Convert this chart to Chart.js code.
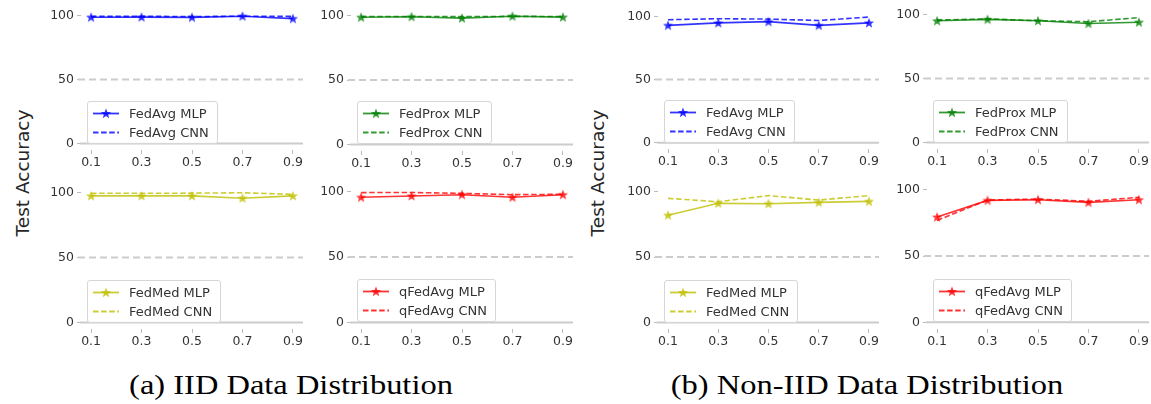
<!DOCTYPE html>
<html>
<head>
<meta charset="utf-8">
<script src="https://cdn.jsdelivr.net/npm/chart.js@4.4.1/dist/chart.umd.min.js"></script>
<style>
  html, body { margin: 0; padding: 0; background: #fff; }
  #wrap { position: relative; width: 1151px; height: 404px; overflow: hidden; background: #fff; }
  canvas { position: absolute; }
  .legend {
    position: absolute; box-sizing: border-box; height: 43px;
    padding: 2px 8px 2px 4px; background: rgba(255,255,255,0.8);
    border: 1px solid #d6d6d6; border-radius: 3px;
    font-family: "DejaVu Sans", sans-serif; font-size: 13px; color: #333;
  }
  .legend .row { display: flex; align-items: center; height: 19px; white-space: nowrap; }
  .legend svg { width: 28px; height: 19px; margin-right: 9px; flex: none; }
  .ylabel {
    position: absolute; width: 200px; text-align: center;
    font-family: "DejaVu Sans", sans-serif; font-size: 18.5px; color: #262626;
    transform: translate(-50%, -50%) rotate(-90deg); white-space: nowrap;
  }
  .caption {
    position: absolute; transform: translate(-50%, -50%) scaleX(1.16); white-space: nowrap;
    font-family: "Liberation Serif", serif; font-size: 28px; color: #000;
  }
</style>
</head>
<body>
<div id="wrap"></div>
<script>
// x values (fraction) and tick labels
const fractions = [0.1, 0.3, 0.5, 0.7, 0.9];
const xTickLabels = ['0.1', '0.3', '0.5', '0.7', '0.9'];
const yTicks = [0, 50, 100];
const methods = ['FedAvg', 'FedProx', 'FedMed', 'qFedAvg'];

// (a) IID
const iidFedAvgMLP = [98.6, 98.7, 98.5, 99.4, 97.5];
const iidFedAvgCNN = [99.2, 99.3, 99.1, 99.4, 99.2];
const iidFedProxMLP = [98.6, 99.0, 97.9, 99.4, 98.7];
const iidFedProxCNN = [99.2, 99.2, 99.1, 99.3, 99.2];
const iidFedMedMLP = [97.4, 97.4, 97.4, 95.6, 97.4];
const iidFedMedCNN = [99.4, 99.4, 99.5, 99.8, 98.6];
const iidQFedAvgMLP = [95.6, 96.6, 97.6, 95.6, 97.6];
const iidQFedAvgCNN = [99.2, 99.3, 98.6, 97.6, 97.9];

// (b) Non-IID
const nonIidFedAvgMLP = [92.8, 94.8, 95.8, 92.8, 94.8];
const nonIidFedAvgCNN = [97.3, 98.1, 97.8, 96.7, 99.4];
const nonIidFedProxMLP = [95.0, 96.1, 95.0, 92.9, 93.9];
const nonIidFedProxCNN = [95.6, 96.5, 95.1, 94.3, 97.5];
const nonIidFedMedMLP = [81.9, 91.0, 90.7, 91.7, 92.5];
const nonIidFedMedCNN = [94.8, 92.2, 96.9, 93.5, 96.9];
const nonIidQFedAvgMLP = [79.3, 91.9, 92.4, 90.4, 92.4];
const nonIidQFedAvgCNN = [76.8, 92.2, 92.9, 91.2, 94.2];

const colors = ['rgba(0,0,255,0.8)', 'rgba(0,128,0,0.8)', 'rgba(191,191,0,0.8)', 'rgba(255,0,0,0.8)'];

// where each subplot sits: pixel of x=0.1 / x=0.9 and y=0 / y=100
const panels = [
  { m: 0, mlp: iidFedAvgMLP, cnn: iidFedAvgCNN, x01: 91.5, x09: 293.3, y0: 143.8, y100: 15 },
  { m: 1, mlp: iidFedProxMLP, cnn: iidFedProxCNN, x01: 361, x09: 563.3, y0: 144.2, y100: 15 },
  { m: 2, mlp: iidFedMedMLP, cnn: iidFedMedCNN, x01: 91.5, x09: 293.3, y0: 322.7, y100: 192.5 },
  { m: 3, mlp: iidQFedAvgMLP, cnn: iidQFedAvgCNN, x01: 361, x09: 563.3, y0: 322.3, y100: 191.7 },
  { m: 0, mlp: nonIidFedAvgMLP, cnn: nonIidFedAvgCNN, x01: 667.7, x09: 868.7, y0: 142.7, y100: 16.7 },
  { m: 1, mlp: nonIidFedProxMLP, cnn: nonIidFedProxCNN, x01: 936.9, x09: 1139.3, y0: 142.7, y100: 14 },
  { m: 2, mlp: nonIidFedMedMLP, cnn: nonIidFedMedCNN, x01: 667.7, x09: 868.7, y0: 322.7, y100: 191.7 },
  { m: 3, mlp: nonIidQFedAvgMLP, cnn: nonIidQFedAvgCNN, x01: 937.3, x09: 1139.3, y0: 322.3, y100: 190 }
];

const YW = 46, XH = 26, PT = 2, PR = 2;
const wrap = document.getElementById('wrap');

Chart.defaults.font.family = '"DejaVu Sans", sans-serif';
Chart.defaults.font.size = 12.5;
Chart.defaults.color = '#333';

function starPoints(cx, cy, R, r) {
  const pts = [];
  for (let i = 0; i < 10; i++) {
    const a = -Math.PI / 2 + i * Math.PI / 5;
    const rad = i % 2 ? r : R;
    pts.push([cx + rad * Math.cos(a), cy + rad * Math.sin(a)]);
  }
  return pts;
}

function starImage(color) {
  const c = document.createElement('canvas');
  c.width = 12; c.height = 12;
  const g = c.getContext('2d');
  g.fillStyle = color;
  g.beginPath();
  starPoints(6, 6.3, 5.4, 2.3).forEach((p, i) => i ? g.lineTo(p[0], p[1]) : g.moveTo(p[0], p[1]));
  g.closePath();
  g.fill();
  return c;
}

// light gray 0 line and dashed 50 line
const refLines = {
  id: 'refLines',
  beforeDatasetsDraw(chart) {
    const { ctx, chartArea } = chart;
    const y = chart.scales.y;
    ctx.save();
    ctx.strokeStyle = '#cccccc';
    ctx.lineWidth = 2;
    ctx.beginPath();
    ctx.moveTo(chartArea.left - 1, y.getPixelForValue(0));
    ctx.lineTo(chartArea.right, y.getPixelForValue(0));
    ctx.stroke();
    ctx.setLineDash([7, 4]);
    ctx.lineWidth = 1.8;
    ctx.beginPath();
    ctx.moveTo(chartArea.left - 3, y.getPixelForValue(50));
    ctx.lineTo(chartArea.right, y.getPixelForValue(50));
    ctx.stroke();
    ctx.restore();
  }
};

function noPad(s) {
  s.paddingTop = 0; s.paddingBottom = 0; s.paddingLeft = 0; s.paddingRight = 0;
}

function legendSvg(color, dashed) {
  if (dashed) {
    return `<svg viewBox="0 0 28 19"><line x1="1" y1="9.5" x2="27" y2="9.5" stroke="${color}" stroke-width="1.8" stroke-dasharray="5.5 2.6"/></svg>`;
  }
  const pts = starPoints(14, 9.8, 5.4, 2.3).map(p => p.join(',')).join(' ');
  return `<svg viewBox="0 0 28 19"><line x1="1" y1="9.5" x2="27" y2="9.5" stroke="${color}" stroke-width="1.8"/><polygon points="${pts}" fill="${color}"/></svg>`;
}

panels.forEach(p => {
  const color = colors[p.m];
  const name = methods[p.m];
  const ppx = (p.x09 - p.x01) / 0.8;
  const ppy = (p.y0 - p.y100) / 100;
  const aL = Math.round(p.x01 - 0.04 * ppx), aR = Math.round(p.x09 + 0.04 * ppx);
  const aT = Math.round(p.y100 - 5 * ppy), aB = Math.round(p.y0 + 5 * ppy);

  const cv = document.createElement('canvas');
  const w = YW + (aR - aL) + PR, h = PT + (aB - aT) + XH;
  cv.width = w; cv.height = h;
  cv.style.left = (aL - YW) + 'px';
  cv.style.top = (aT - PT) + 'px';
  cv.style.width = w + 'px';
  cv.style.height = h + 'px';
  wrap.appendChild(cv);

  new Chart(cv, {
    type: 'line',
    data: {
      datasets: [
        {
          label: name + ' MLP',
          data: fractions.map((f, i) => ({ x: f, y: p.mlp[i] })),
          borderColor: color,
          backgroundColor: color,
          borderWidth: 1.6,
          pointStyle: starImage(color),
          pointRadius: 5,
          tension: 0
        },
        {
          label: name + ' CNN',
          data: fractions.map((f, i) => ({ x: f, y: p.cnn[i] })),
          borderColor: color,
          borderWidth: 1.6,
          borderDash: [5.5, 2.6],
          pointRadius: 0,
          tension: 0
        }
      ]
    },
    options: {
      responsive: false,
      animation: false,
      layout: { autoPadding: false, padding: { top: PT, right: PR, left: 0, bottom: 0 } },
      plugins: { legend: { display: false }, tooltip: { enabled: false } },
      scales: {
        x: {
          type: 'linear', min: 0.06, max: 0.94,
          afterBuildTicks: s => { s.ticks = fractions.map(v => ({ value: v })); },
          afterFit: s => { s.height = XH; noPad(s); },
          ticks: { callback: (v, i) => xTickLabels[i], padding: 1, maxRotation: 0 },
          grid: { drawOnChartArea: false, tickLength: 4, color: '#bbbbbb', lineWidth: 1 },
          border: { display: false }
        },
        y: {
          min: -5, max: 105,
          afterBuildTicks: s => { s.ticks = yTicks.map(v => ({ value: v })); },
          afterFit: s => { s.width = YW; noPad(s); },
          ticks: { padding: 3 },
          grid: { drawOnChartArea: false, tickLength: 4, color: '#bbbbbb', lineWidth: 1 },
          border: { display: false }
        }
      }
    },
    plugins: [refLines]
  });

  const lg = document.createElement('div');
  lg.className = 'legend';
  lg.style.left = (aL + 6) + 'px';
  lg.style.top = (p.y0 - 43) + 'px';
  lg.innerHTML =
    `<div class="row">${legendSvg(color, false)}<span>${name} MLP</span></div>` +
    `<div class="row">${legendSvg(color, true)}<span>${name} CNN</span></div>`;
  wrap.appendChild(lg);
});

[[22, 173], [597, 173]].forEach(([x, y]) => {
  const d = document.createElement('div');
  d.className = 'ylabel';
  d.style.left = x + 'px';
  d.style.top = y + 'px';
  d.textContent = 'Test Accuracy';
  wrap.appendChild(d);
});

[['(a) IID Data Distribution', 291, 385], ['(b) Non-IID Data Distribution', 867, 385]].forEach(([t, x, y]) => {
  const d = document.createElement('div');
  d.className = 'caption';
  d.style.left = x + 'px';
  d.style.top = y + 'px';
  d.textContent = t;
  wrap.appendChild(d);
});
</script>
</body>
</html>
